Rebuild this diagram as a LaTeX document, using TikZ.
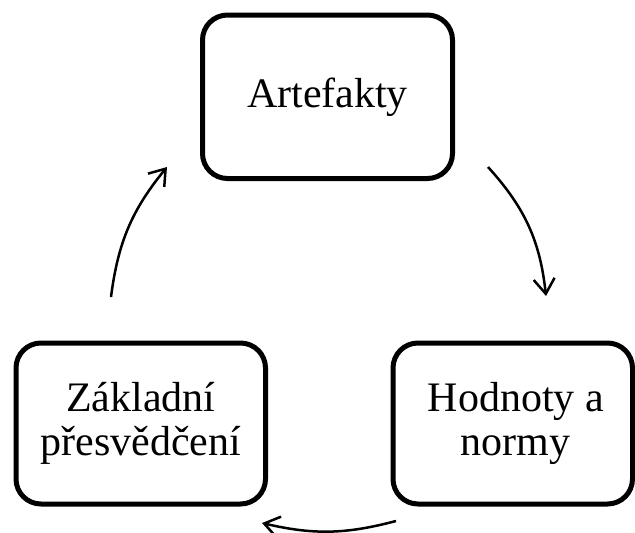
\documentclass[tikz,border=0pt]{standalone}
\usepackage{fontspec}
\setmainfont{Liberation Serif}
\usetikzlibrary{arrows.meta}
\tikzset{
  boxnode/.style={draw=black, line width=5pt, rounded corners=25pt, rectangle,
    align=center, inner sep=0pt, font=\fontsize{42}{44}\selectfont},
  cyclearrow/.style={line width=2.5pt, -{Straight Barb[length=15pt,width=21pt]}}
}
\begin{document}
\begin{tikzpicture}[x=1pt,y=-1pt]
\useasboundingbox (0,0) rectangle (635,533);
\node[boxnode, minimum width=250pt, minimum height=163.5pt] (art) at (327.5,96.75) {Artefakty};
\node[boxnode, minimum width=249.5pt, minimum height=161pt] (zak) at (140.75,423.5) {Základní\\přesvědčení};
\node[boxnode, minimum width=239.5pt, minimum height=161pt] (hod) at (512.75,423.5) {\hspace*{6pt}Hodnoty a\\\hspace*{6pt}normy};
\coordinate (a1s) at (488,167);
\coordinate (a1e) at (546,296);
\coordinate (a2s) at (396,521);
\coordinate (a2e) at (262,523);
\coordinate (a3s) at (111,297);
\coordinate (a3e) at (167,167);
\draw[cyclearrow] (a1s) to[bend left=18] (a1e);
\draw[cyclearrow] (a2s) to[bend left=14] (a2e);
\draw[cyclearrow] (a3s) to[bend left=16] (a3e);
\end{tikzpicture}
\end{document}
